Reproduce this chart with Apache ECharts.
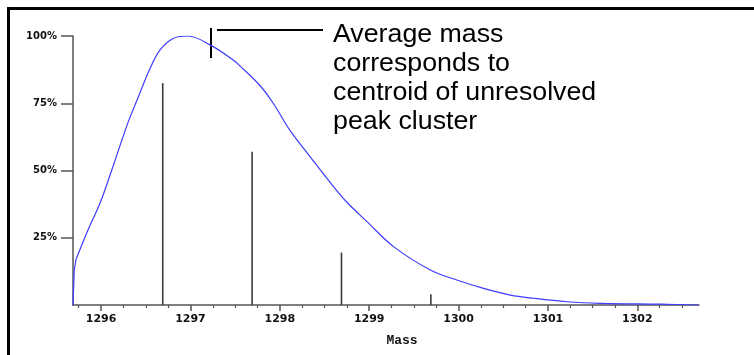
<!DOCTYPE html>
<html>
<head>
<meta charset="utf-8">
<script src="https://cdn.jsdelivr.net/npm/echarts@6/dist/echarts.min.js"></script>
<style>
  html, body { margin: 0; padding: 0; background: #ffffff; overflow: hidden; }
  #chart { width: 754px; height: 355px; }
</style>
</head>
<body>
<div id="chart"></div>
<script>
// Envelope of the unresolved isotope cluster (mass, relative intensity %)
const envelopeMass = [1295.686, 1295.70, 1295.72, 1295.854, 1295.989, 1296.12, 1296.30, 1296.403, 1296.549, 1296.66, 1296.806, 1296.974, 1297.22, 1297.478, 1297.557, 1297.78, 1297.926, 1298.116, 1298.34, 1298.6, 1298.75, 1298.975, 1299.273, 1299.684, 1299.98, 1300.28, 1300.58, 1300.84, 1301.215, 1301.588, 1302.26, 1302.69];
const envelopeIntensity = [0, 13, 17, 27.9, 37.9, 50.2, 67.7, 76.2, 88, 94.8, 99.1, 100, 96.7, 91.1, 88.8, 81.5, 75, 64.8, 55.1, 44, 38.2, 31, 21.7, 13, 9.3, 6.2, 3.7, 2.5, 1.2, 0.6, 0.3, 0];

// Resolved isotope peaks (stick spectrum)
const peakMass = [1296.69, 1297.69, 1298.69, 1299.69];
const peakIntensity = [82.5, 57, 19.5, 4];

// Axis ticks
const massTicks = [1296, 1297, 1298, 1299, 1300, 1301, 1302];
const massMinorTicks = [1295.75, 1296.25, 1296.5, 1296.75, 1297.25, 1297.5, 1297.75, 1298.25, 1298.5, 1298.75, 1299.25, 1299.5, 1299.75, 1300.25, 1300.5, 1300.75, 1301.25, 1301.5, 1301.75, 1302.25, 1302.5];
const intensityTicks = [25, 50, 75, 100];

const massMin = 1295.686;
const massMax = 1302.69;

const annotationLines = ['Average mass', 'corresponds to', 'centroid of unresolved', 'peak cluster'];

const chart = echarts.init(document.getElementById('chart'), null, { renderer: 'canvas' });

const axisGray = '#555555';
const gridTop = 36;
const gridBottom = 50;
const gridHeight = 355 - gridTop - gridBottom;

// the rising edge starts with a vertical step at the axis; the rest is a smooth envelope
const stepCount = 3;
const envelopePoints = envelopeMass.map((m, i) => [m, envelopeIntensity[i]]);

chart.setOption({
  animation: false,
  backgroundColor: '#ffffff',
  grid: { left: 73, right: 55, top: gridTop, bottom: gridBottom },
  xAxis: [
    {
      type: 'value',
      position: 'bottom',
      min: massMin,
      max: massMax,
      axisLine: { show: true, lineStyle: { color: axisGray, width: 1.5 } },
      axisTick: { show: true, customValues: massTicks, length: 6, lineStyle: { color: axisGray, width: 1.5 } },
      axisLabel: {
        customValues: massTicks,
        formatter: v => String(Math.round(v)),
        margin: 9,
        fontFamily: 'DejaVu Sans',
        fontWeight: 'bold',
        fontSize: 11,
        color: '#111111'
      },
      splitLine: { show: false }
    },
    {
      // quarter-unit minor ticks, moved down onto the baseline
      type: 'value',
      position: 'top',
      offset: -gridHeight,
      min: massMin,
      max: massMax,
      axisLine: { show: false },
      axisTick: { show: true, inside: true, customValues: massMinorTicks, length: 3, lineStyle: { color: axisGray, width: 1.2 } },
      axisLabel: { show: false },
      splitLine: { show: false }
    }
  ],
  yAxis: {
    type: 'value',
    min: 0,
    max: 100,
    axisLine: { show: true, lineStyle: { color: axisGray, width: 1.5 } },
    axisTick: { show: true, customValues: intensityTicks, length: 12, lineStyle: { color: axisGray, width: 1.5 } },
    axisLabel: {
      customValues: intensityTicks,
      margin: 16,
      formatter: v => v + '%',
      fontFamily: 'DejaVu Sans',
      fontWeight: 'bold',
      fontSize: 10,
      color: '#111111'
    },
    splitLine: { show: false }
  },
  series: [
    {
      type: 'bar',
      xAxisIndex: 0,
      barWidth: 1.6,
      itemStyle: { color: '#3a3a3a' },
      data: peakMass.map((m, i) => [m, peakIntensity[i]])
    },
    {
      type: 'line',
      xAxisIndex: 0,
      smooth: false,
      symbol: 'none',
      lineStyle: { color: '#3c3cff', width: 1.2 },
      data: envelopePoints.slice(0, stepCount),
      z: 3
    },
    {
      type: 'line',
      xAxisIndex: 0,
      smooth: 0.35,
      symbol: 'none',
      lineStyle: { color: '#3c3cff', width: 1.2 },
      data: envelopePoints.slice(stepCount - 1),
      z: 3
    }
  ],
  graphic: [
    // panel frame (top and left edges)
    {
      type: 'line',
      shape: { x1: 7, y1: 8.5, x2: 754, y2: 8.5 },
      style: { stroke: '#000000', lineWidth: 3 },
      silent: true
    },
    {
      type: 'line',
      shape: { x1: 8.5, y1: 7, x2: 8.5, y2: 355 },
      style: { stroke: '#000000', lineWidth: 3 },
      silent: true
    },
    // average-mass marker and leader line
    {
      type: 'line',
      shape: { x1: 211, y1: 28, x2: 211, y2: 58 },
      style: { stroke: '#000000', lineWidth: 2 }
    },
    {
      type: 'line',
      shape: { x1: 217, y1: 30, x2: 323, y2: 30 },
      style: { stroke: '#000000', lineWidth: 2 }
    },
    {
      type: 'text',
      x: 333,
      y: 21,
      scaleX: 1.07,
      style: {
        text: annotationLines.join('\n'),
        font: '25px "Liberation Sans", Arial, sans-serif',
        lineHeight: 29,
        fill: '#000000'
      }
    },
    {
      type: 'text',
      x: 402,
      y: 341,
      style: {
        text: 'Mass',
        font: 'bold 13px "Liberation Mono", "Courier New", monospace',
        fill: '#111111',
        align: 'center',
        verticalAlign: 'middle'
      }
    }
  ]
});
</script>
</body>
</html>
